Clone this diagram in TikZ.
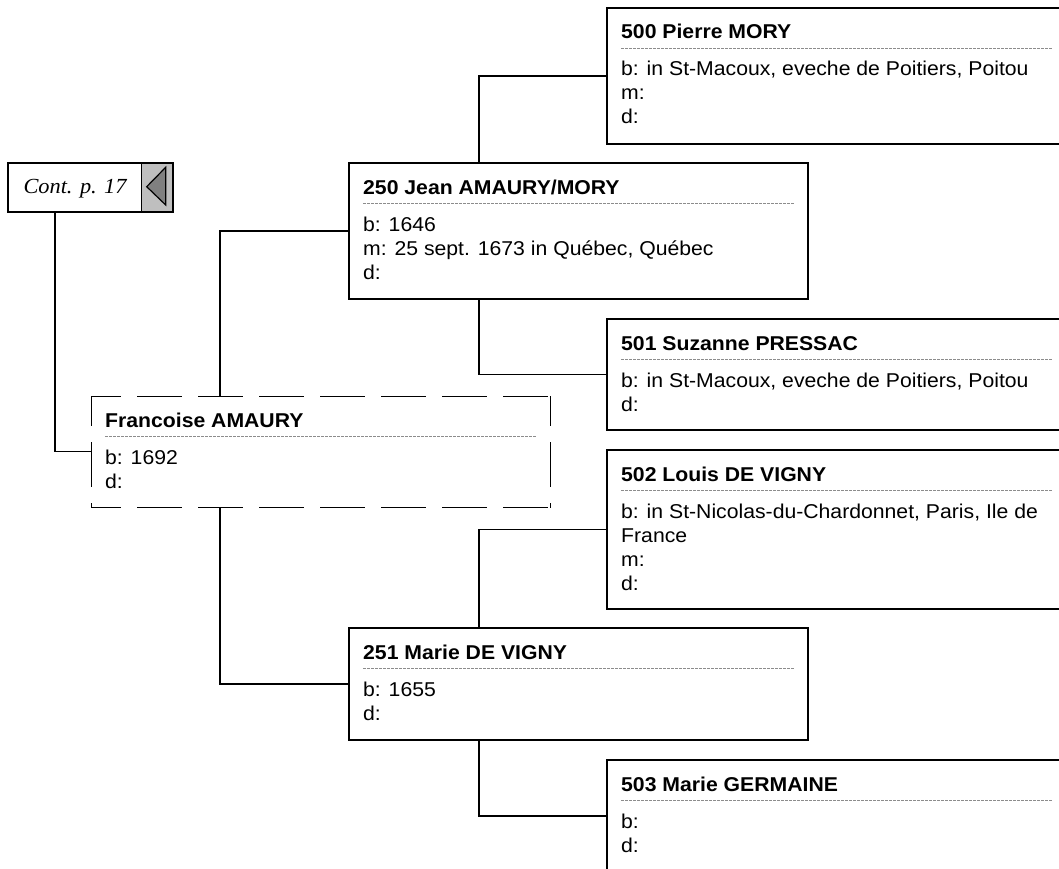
\documentclass[tikz,border=0pt]{standalone}
\usepackage{fontspec}
\setmainfont[FakeStretch=1.06]{Liberation Sans}
\newfontfamily\contfont[FakeStretch=1.04]{Liberation Serif}
\usetikzlibrary{calc}
\tikzset{
  pbox/.style={draw, line width=1.6pt, rectangle, anchor=north west, inner sep=0pt, outer sep=0pt, fill=white},
  rootbox/.style={rectangle, anchor=north west, inner sep=0pt, outer sep=0pt},
  rootedge/.style={line width=1pt, dash pattern=on 45pt off 16pt, dash phase=15pt},
  conn/.style={line width=1.3pt},
  ttl/.style={anchor=base west, inner sep=0pt, font=\fontsize{20}{24}\selectfont\bfseries},
  info/.style={anchor=base west, inner sep=0pt, font=\fontsize{20}{24}\selectfont},
  sepline/.style={draw=black!45, line width=0.6pt, dash pattern=on 2.5pt off 1.5pt},
}
\newcommand\personbox[7][pbox]{%
  \node[#1, minimum width=#5pt, minimum height=#6pt] (#2) at (#3,#4) {};
  \node[ttl] (#2-t) at ($(#2.north west)+(14,31)$) {#7};
  \draw[sepline] ($(#2.north west)+(14,40)$) -- ($(#2.north east)+(-13,40)$);
}
\begin{document}
\begin{tikzpicture}[x=1pt,y=-1pt]
\useasboundingbox (0,0) rectangle (1059,869);
\clip (0,0) rectangle (1059,869);

% continuation box
\node[rectangle, anchor=north west, minimum width=165pt, minimum height=49pt, inner sep=0pt, outer sep=0pt] (cont) at (8,162.7) {};
\fill[black!25] ($(cont.north east)+(-31.6,0)$) rectangle (cont.south east);
\draw[line width=0.8pt] ($(cont.north east)+(-31.6,0)$) -- ($(cont.south east)+(-31.6,0)$);
\draw[line width=2.2pt] (cont.north west) rectangle (cont.south east);
\draw[line width=1.2pt, fill=black!50, line join=miter] (146.7,186.7) -- (165.7,167.3) -- (165.7,205) -- cycle;
\node[anchor=base west, inner sep=0pt, font=\contfont\itshape\fontsize{21.5}{24}\selectfont] (cont-t) at (23.3,193.3) {Cont. p. 17};

% root (dashed)
\personbox[rootbox]{root}{91}{396}{459}{111.5}{Francoise AMAURY}
\draw[rootedge] (root.north west) -- (root.north east);
\draw[rootedge] (root.south west) -- (root.south east);
\draw[rootedge] (root.north west) -- (root.south west);
\draw[rootedge] (root.north east) -- (root.south east);
\node[info] (root-l0) at ($(root.north west)+(14,68)$) {b: 1692};
\node[info] (root-l1) at ($(root.north west)+(14,92)$) {d:};

% parents
\personbox{p250}{349}{163}{459}{136}{250 Jean AMAURY/MORY}
\node[info] (p250-l0) at ($(p250.north west)+(14,68)$) {b: 1646};
\node[info] (p250-l1) at ($(p250.north west)+(14,92)$) {m: 25 sept. 1673 in Québec, Québec};
\node[info] (p250-l2) at ($(p250.north west)+(14,116)$) {d:};

\personbox{p251}{349}{628}{459}{112}{251 Marie DE VIGNY}
\node[info] (p251-l0) at ($(p251.north west)+(14,68)$) {b: 1655};
\node[info] (p251-l1) at ($(p251.north west)+(14,92)$) {d:};

% grandparents
\personbox{p500}{607}{8}{459}{136}{500 Pierre MORY}
\node[info] (p500-l0) at ($(p500.north west)+(14,68)$) {b: in St-Macoux, eveche de Poitiers, Poitou};
\node[info] (p500-l1) at ($(p500.north west)+(14,92)$) {m:};
\node[info] (p500-l2) at ($(p500.north west)+(14,116)$) {d:};

\personbox{p501}{607}{319}{459}{111}{501 Suzanne PRESSAC}
\node[info] (p501-l0) at ($(p501.north west)+(14,68)$) {b: in St-Macoux, eveche de Poitiers, Poitou};
\node[info] (p501-l1) at ($(p501.north west)+(14,92)$) {d:};

\personbox{p502}{607}{450}{459}{159}{502 Louis DE VIGNY}
\node[info] (p502-l0) at ($(p502.north west)+(14,68)$) {b: in St-Nicolas-du-Chardonnet, Paris, Ile de};
\node[info] (p502-l1) at ($(p502.north west)+(14,92)$) {France};
\node[info] (p502-l2) at ($(p502.north west)+(14,116)$) {m:};
\node[info] (p502-l3) at ($(p502.north west)+(14,140)$) {d:};

\personbox{p503}{607}{760}{459}{112}{503 Marie GERMAINE}
\node[info] (p503-l0) at ($(p503.north west)+(14,68)$) {b:};
\node[info] (p503-l1) at ($(p503.north west)+(14,92)$) {d:};

% connectors
\draw[conn] ($(cont.south west)+(47,0)$) |- (root.west);
\draw[conn] ($(root.north west)+(129,0)$) |- (p250.west);
\draw[conn] ($(root.south west)+(129,0)$) |- (p251.west);
\draw[conn] ($(p250.north west)+(130,0)$) |- (p500.west);
\draw[conn] ($(p250.south west)+(130,0)$) |- (p501.west);
\draw[conn] ($(p251.north west)+(130,0)$) |- (p502.west);
\draw[conn] ($(p251.south west)+(130,0)$) |- (p503.west);
\end{tikzpicture}
\end{document}
